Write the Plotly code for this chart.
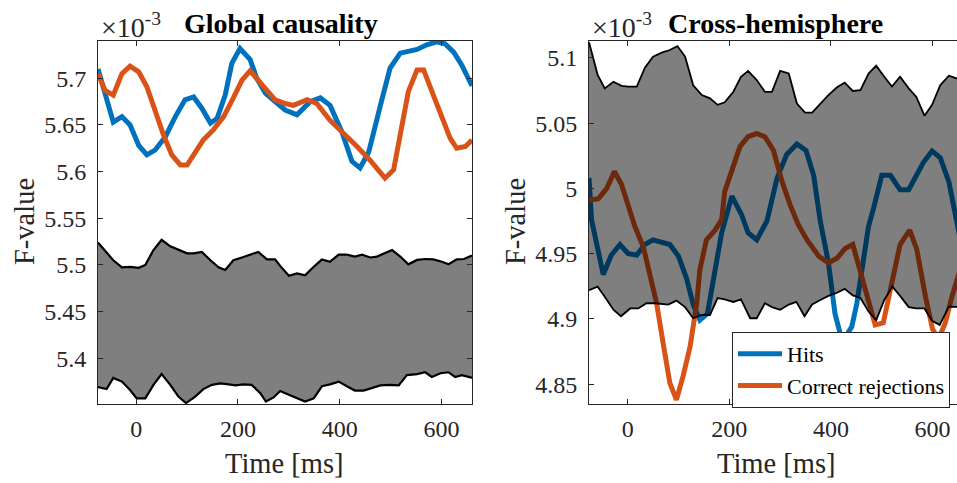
import plotly.graph_objects as go

# ---------------- data (values in units of 1e-3) ----------------
# Left panel: Global causality
gc_hits_t = [-75, -45, -28, -12, 5, 21, 37, 57, 77, 96, 113, 129, 146, 159, 175, 188, 204, 224, 237,
             254, 273, 293, 316, 342, 362, 381, 404, 424, 440, 457, 480, 499, 519, 552, 571, 591,
             607, 624, 640, 657, 660]
gc_hits = [5.710, 5.653, 5.659, 5.650, 5.628, 5.618, 5.623, 5.637, 5.659, 5.677, 5.680, 5.668, 5.652,
           5.657, 5.682, 5.716, 5.732, 5.720, 5.700, 5.684, 5.675, 5.666, 5.661, 5.675, 5.679, 5.671,
           5.643, 5.611, 5.604, 5.621, 5.671, 5.711, 5.727, 5.731, 5.736, 5.739, 5.737, 5.728, 5.714,
           5.696, 5.692]

gc_cr_t = [-75, -61, -45, -28, -12, 5, 21, 37, 54, 70, 87, 100, 116, 132, 152, 172, 191, 208, 224, 240,
           257, 273, 293, 309, 336, 355, 381, 408, 434, 460, 489, 506, 519, 535, 552, 565, 584, 601,
           617, 630, 647, 660]
gc_cr = [5.705, 5.687, 5.682, 5.705, 5.713, 5.707, 5.691, 5.664, 5.639, 5.618, 5.607, 5.607, 5.620,
         5.634, 5.645, 5.659, 5.679, 5.698, 5.708, 5.698, 5.686, 5.677, 5.673, 5.671, 5.677, 5.673,
         5.655, 5.641, 5.627, 5.612, 5.593, 5.602, 5.643, 5.686, 5.709, 5.709, 5.682, 5.657, 5.636,
         5.625, 5.627, 5.634]

gc_up_t = [-75, -45, -28, -12, 5, 18, 34, 50, 67, 83, 100, 113, 129, 146, 162, 175, 191, 208, 224, 240,
           257, 273, 283, 300, 316, 332, 349, 365, 381, 398, 414, 430, 444, 460, 473, 489, 503, 519,
           535, 552, 568, 584, 601, 614, 630, 644, 660]
gc_up = [5.524, 5.505, 5.4975, 5.498, 5.497, 5.500, 5.516, 5.527, 5.520, 5.516, 5.5125, 5.5125, 5.514,
         5.505, 5.4975, 5.4946, 5.505, 5.508, 5.511, 5.514, 5.506, 5.506, 5.499, 5.4885, 5.491, 5.489,
         5.498, 5.506, 5.5035, 5.511, 5.511, 5.509, 5.511, 5.508, 5.509, 5.5125, 5.516, 5.509, 5.5007,
         5.5054, 5.5064, 5.506, 5.5035, 5.5007, 5.506, 5.5064, 5.510]

gc_lo_t = [-75, -58, -45, -28, -12, 1, 18, 34, 50, 67, 83, 98, 116, 132, 149, 165, 182, 195, 211, 227,
           244, 255, 270, 283, 300, 316, 332, 349, 365, 381, 398, 414, 430, 447, 463, 480, 499, 516,
           532, 552, 568, 581, 598, 614, 627, 640, 657, 660]
gc_lo = [5.369, 5.367, 5.379, 5.375, 5.366, 5.357, 5.357, 5.3715, 5.383, 5.3715, 5.359, 5.352, 5.359,
         5.367, 5.3715, 5.373, 5.372, 5.371, 5.372, 5.3715, 5.3626, 5.3536, 5.358, 5.365, 5.361, 5.357,
         5.3536, 5.357, 5.370, 5.372, 5.375, 5.370, 5.3654, 5.3654, 5.368, 5.371, 5.3715, 5.371, 5.382,
         5.383, 5.385, 5.380, 5.384, 5.385, 5.380, 5.382, 5.3795, 5.379]

# Right panel: Cross-hemisphere
ch_hits_t = [-76, -71, -48, -32, -15, 1, 18, 34, 50, 67, 83, 100, 116, 129, 142, 157, 172, 185, 205, 224,
             237, 254, 274, 294, 313, 333, 351, 366, 379, 395, 408, 418, 428, 441, 451, 464, 474, 484,
             500, 517, 536, 553, 569, 582, 599, 615, 632, 645, 660]
ch_hits = [5.008, 4.976, 4.934, 4.949, 4.957, 4.950, 4.949, 4.957, 4.9605, 4.959, 4.957, 4.948, 4.931,
           4.911, 4.899, 4.904, 4.9375, 4.966, 4.994, 4.980, 4.966, 4.9605, 4.975, 5.008, 5.026, 5.034,
           5.029, 5.010, 4.975, 4.943, 4.904, 4.889, 4.886, 4.894, 4.912, 4.945, 4.971, 4.985, 5.010,
           5.010, 4.999, 4.999, 5.010, 5.020, 5.0286, 5.0235, 5.005, 4.980, 4.950]

ch_cr_t = [-76, -58, -41, -26, -12, 1, 14, 31, 44, 57, 70, 83, 96, 109, 123, 136, 142, 155, 172, 185,
           191, 205, 221, 237, 254, 270, 287, 304, 320, 336, 353, 376, 395, 412, 428, 443, 458, 474,
           487, 503, 519, 536, 555, 569, 586, 600, 612, 625, 638, 648, 660]
ch_cr = [4.991, 4.992, 5.000, 5.013, 5.003, 4.987, 4.971, 4.955, 4.935, 4.912, 4.881, 4.851, 4.838,
         4.856, 4.879, 4.912, 4.9375, 4.9605, 4.968, 4.976, 4.9975, 5.015, 5.032, 5.0396, 5.042,
         5.0396, 5.029, 5.005, 4.987, 4.972, 4.9605, 4.948, 4.943, 4.9465, 4.954, 4.957, 4.935,
         4.9145, 4.8954, 4.897, 4.925, 4.957, 4.968, 4.953, 4.917, 4.892, 4.885, 4.897, 4.917,
         4.930, 4.945]

ch_up_t = [-76, -59, -45, -28, -12, 1, 18, 34, 50, 67, 83, 98, 113, 129, 146, 162, 177, 191, 208, 223,
           237, 254, 270, 284, 300, 317, 333, 349, 363, 379, 395, 412, 427, 443, 458, 474, 489, 505,
           520, 536, 553, 568, 584, 599, 615, 632, 647, 660]
ch_up = [5.112, 5.087, 5.0766, 5.0817, 5.0786, 5.078, 5.078, 5.0924, 5.1008, 5.104, 5.106, 5.109,
         5.101, 5.079, 5.0715, 5.069, 5.064, 5.066, 5.074, 5.0855, 5.090, 5.083, 5.074, 5.074, 5.090,
         5.088, 5.065, 5.058, 5.058, 5.065, 5.0715, 5.0774, 5.081, 5.0746, 5.0753, 5.088, 5.094,
         5.0855, 5.078, 5.0855, 5.0766, 5.070, 5.0557, 5.064, 5.079, 5.0863, 5.0843, 5.084]

ch_lo_t = [-76, -59, -45, -28, -13, 5, 21, 37, 54, 80, 96, 113, 129, 146, 162, 177, 191, 208, 223, 241,
           254, 270, 284, 300, 317, 332, 348, 363, 379, 395, 412, 427, 443, 458, 474, 489, 505, 521,
           536, 553, 568, 584, 599, 614, 632, 647, 660]
ch_lo = [4.922, 4.9247, 4.917, 4.907, 4.902, 4.908, 4.908, 4.912, 4.912, 4.911, 4.914, 4.909, 4.9005,
         4.903, 4.903, 4.916, 4.915, 4.913, 4.915, 4.9005, 4.9005, 4.912, 4.909, 4.907, 4.911, 4.913,
         4.902, 4.911, 4.9145, 4.9176, 4.920, 4.923, 4.918, 4.916, 4.9056, 4.899, 4.9145, 4.9247,
         4.9176, 4.909, 4.908, 4.908, 4.8985, 4.8954, 4.9094, 4.9094, 4.909]

x_ticks = [0, 200, 400, 600]
gc_yticks = [5.4, 5.45, 5.5, 5.55, 5.6, 5.65, 5.7]
gc_yticklabels = ["5.4", "5.45", "5.5", "5.55", "5.6", "5.65", "5.7"]
ch_yticks = [4.85, 4.9, 4.95, 5.0, 5.05, 5.1]
ch_yticklabels = ["4.85", "4.9", "4.95", "5", "5.05", "5.1"]

titles = ["Global causality", "Cross-hemisphere"]
series_names = ["Hits", "Correct rejections"]

# ---------------- styling ----------------
W, H = 957, 483
FONT = "Liberation Serif"
AX = "#262626"
BLUE = "#0072BD"
ORANGE = "#D95319"
BAND = "rgba(0,0,0,0.5)"
LW = 5

def px(x):
    return x / W

def py(y):
    return 1 - y / H

fig = go.Figure()

# Left panel: band first, then lines
fig.add_trace(go.Scatter(x=gc_lo_t, y=gc_lo, mode="lines", line=dict(color="black", width=2.2),
                         showlegend=False, xaxis="x", yaxis="y", hoverinfo="skip"))
fig.add_trace(go.Scatter(x=gc_up_t, y=gc_up, mode="lines", line=dict(color="black", width=2.2),
                         fill="tonexty", fillcolor=BAND, showlegend=False, xaxis="x", yaxis="y",
                         hoverinfo="skip"))
fig.add_trace(go.Scatter(x=gc_hits_t, y=gc_hits, mode="lines", line=dict(color=BLUE, width=LW),
                         name=series_names[0], showlegend=False, xaxis="x", yaxis="y"))
fig.add_trace(go.Scatter(x=gc_cr_t, y=gc_cr, mode="lines", line=dict(color=ORANGE, width=LW),
                         name=series_names[1], showlegend=False, xaxis="x", yaxis="y"))

# Right panel: lines first, then translucent band on top
fig.add_trace(go.Scatter(x=ch_hits_t, y=ch_hits, mode="lines", line=dict(color=BLUE, width=LW),
                         name=series_names[0], xaxis="x2", yaxis="y2"))
fig.add_trace(go.Scatter(x=ch_cr_t, y=ch_cr, mode="lines", line=dict(color=ORANGE, width=LW),
                         name=series_names[1], xaxis="x2", yaxis="y2"))
fig.add_trace(go.Scatter(x=ch_lo_t, y=ch_lo, mode="lines", line=dict(color="black", width=1.8),
                         showlegend=False, xaxis="x2", yaxis="y2", hoverinfo="skip"))
fig.add_trace(go.Scatter(x=ch_up_t, y=ch_up, mode="lines", line=dict(color="black", width=1.8),
                         fill="tonexty", fillcolor=BAND, showlegend=False, xaxis="x2", yaxis="y2",
                         hoverinfo="skip"))

tickfont = dict(family=FONT, size=24, color=AX)
common_x = dict(tickvals=x_ticks, ticks="inside", ticklen=5, tickcolor=AX, showline=True, linecolor=AX,
                linewidth=1, showgrid=False, zeroline=False, tickfont=tickfont, ticklabelstandoff=3)
common_y = dict(ticks="inside", ticklen=5, tickcolor=AX, showline=True, linecolor=AX, linewidth=1,
                showgrid=False, zeroline=False, tickfont=tickfont, ticklabelstandoff=6)

y_dom = [py(404), py(41)]
fig.update_layout(
    width=W, height=H,
    margin=dict(l=0, r=0, t=0, b=0, autoexpand=False),
    paper_bgcolor="white", plot_bgcolor="white",
    xaxis=dict(domain=[px(98), px(472)], range=[-75, 660], mirror="ticks", anchor="y", **common_x),
    yaxis=dict(domain=y_dom, range=[5.351, 5.740], tickvals=gc_yticks, ticktext=gc_yticklabels,
               mirror="ticks", anchor="x", **common_y),
    xaxis2=dict(domain=[px(589), 1.0], range=[-76, 648], mirror="ticks", anchor="y2", **common_x),
    yaxis2=dict(domain=y_dom, range=[4.8348, 5.1129], tickvals=ch_yticks, ticktext=ch_yticklabels,
                mirror=False, anchor="x2", **common_y),
    legend=dict(x=px(732), y=py(332), xanchor="left", yanchor="top", bgcolor="white",
                bordercolor=AX, borderwidth=1, font=dict(family=FONT, size=22, color="black"),
                tracegroupgap=0, traceorder="normal", itemwidth=44),
    showlegend=True,
)

ann = []
for cx, ex, ttl in [(281, 99, titles[0]), (775, 590, titles[1])]:
    ann.append(dict(text="<b>%s</b>" % ttl, x=px(cx), y=py(23), xref="paper", yref="paper",
                    xanchor="center", yanchor="middle", showarrow=False,
                    font=dict(family=FONT, size=28, color="black")))
    ann.append(dict(text="×10<sup>-3</sup>", x=px(ex), y=py(25), xref="paper", yref="paper",
                    xanchor="left", yanchor="middle", showarrow=False,
                    font=dict(family=FONT, size=28, color=AX)))
for cx in [284, 776]:
    ann.append(dict(text="Time [ms]", x=px(cx), y=py(463), xref="paper", yref="paper",
                    xanchor="center", yanchor="middle", showarrow=False,
                    font=dict(family=FONT, size=28.5, color=AX)))
for cx in [24, 515]:
    ann.append(dict(text="F-value", x=px(cx), y=py(222), xref="paper", yref="paper",
                    xanchor="center", yanchor="middle", showarrow=False, textangle=-90,
                    font=dict(family=FONT, size=28.5, color=AX)))
fig.update_layout(annotations=ann)

fig.write_html("out.html")
